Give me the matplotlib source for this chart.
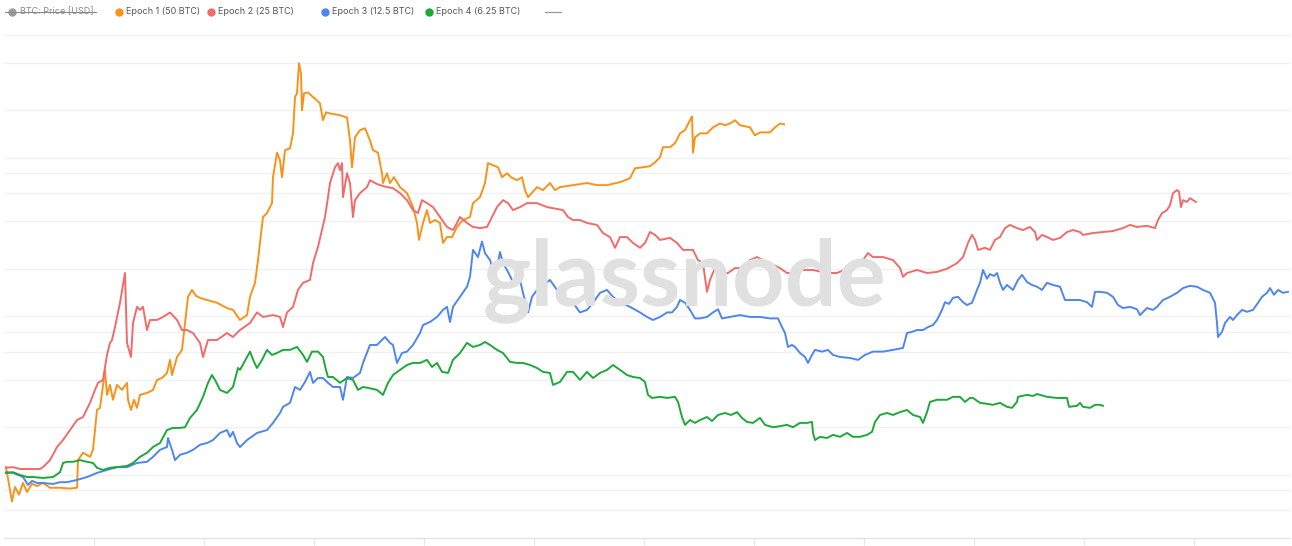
import numpy as np
import matplotlib.pyplot as plt
from matplotlib.lines import Line2D

# ROI multiple since the halving, per day since the halving
epoch1_days = [0, 6, 9, 13, 17, 21, 26, 31, 37, 44, 54, 64, 71, 72, 77, 84, 87, 91, 94, 99,
               101, 104, 107, 111, 116, 121, 122, 125, 128, 131, 134, 141, 147, 151, 156, 161, 164, 166, 171, 176,
               179, 182, 186, 190, 194, 201, 211, 221, 227, 234, 241, 244, 249, 252, 257, 261, 266, 267, 271, 274,
               276, 279, 284, 287, 289, 291, 293, 295, 296, 298, 302, 307, 311, 314, 317, 320, 324, 334, 341, 344,
               346, 349, 354, 359, 364, 367, 372, 376, 377, 381, 384, 388, 394, 401, 407, 411, 413, 417, 421, 424,
               429, 434, 437, 441, 446, 451, 457, 464, 467, 474, 479, 482, 487, 492, 496, 501, 505, 511, 516, 519,
               522, 531, 537, 544, 549, 554, 567, 581, 591, 601, 614, 624, 629, 637, 644, 649, 654, 657, 664, 669,
               674, 679, 684, 686, 687, 689, 694, 701, 707, 714, 719, 724, 729, 734, 744, 749, 754, 764, 769, 774, 778]
epoch1_roi = [1.12, 0.68, 0.84, 0.75, 0.89, 0.78, 0.88, 0.85, 0.89, 0.83, 0.83, 0.82, 0.83, 1.24, 1.38, 1.30, 1.44, 2.57, 2.65, 4.60,
              3.20, 3.70, 2.98, 3.70, 3.44, 3.81, 2.98, 2.57, 2.98, 2.65, 3.20, 3.29, 3.44, 3.98, 4.09, 4.40, 5.32, 4.27, 5.55, 6.15,
              9.09, 13.3, 14.7, 13.5, 13.1, 12.7, 12.2, 11.3, 11.0, 9.50, 10.2, 13.3, 16.3, 22.7, 42.4, 44.9, 51.9, 75.6, 108, 96.8,
              75.6, 112, 115, 143, 242, 256, 396, 342, 200, 256, 259, 242, 231, 221, 173, 194, 191, 186, 180, 129,
              87.4, 135, 150, 154, 129, 112, 108, 80.1, 69.5, 80.1, 69.5, 75.6, 65.5, 60.0, 49.0, 38.9, 30.4, 38.9, 46.9, 38.9,
              40.6, 38.9, 29.1, 31.7, 31.7, 36.7, 40.6, 42.4, 51.9, 56.6, 69.5, 92.8, 90.0, 87.4, 75.6, 80.1, 75.6, 72.4, 75.6, 62.7,
              56.6, 65.5, 62.7, 69.5, 62.7, 65.5, 67.4, 69.5, 67.4, 67.4, 70.4, 74.5, 86.1, 87.4, 88.7, 93.9, 101, 117, 117, 124,
              143, 150, 173, 183, 108, 135, 143, 143, 156, 165, 161, 165, 173, 161, 156, 139, 145, 145, 156, 165, 163]

epoch2_days = [0, 7, 14, 24, 34, 37, 44, 51, 57, 64, 71, 77, 84, 89, 92, 97, 101, 104, 106, 109,
               114, 119, 121, 125, 127, 131, 134, 137, 141, 144, 151, 157, 164, 171, 176, 181, 187, 194, 197, 202,
               211, 221, 227, 234, 244, 251, 257, 267, 274, 277, 281, 287, 292, 297, 304, 307, 312, 316, 319, 322,
               324, 329, 332, 334, 336, 337, 341, 344, 347, 349, 354, 361, 364, 369, 374, 381, 387, 394, 401, 407,
               412, 416, 421, 427, 434, 441, 447, 451, 454, 461, 467, 474, 481, 486, 491, 497, 502, 507, 514, 521,
               531, 541, 547, 557, 562, 567, 574, 581, 591, 597, 604, 609, 614, 621, 627, 634, 639, 644, 649, 654,
               664, 671, 677, 687, 692, 697, 701, 704, 711, 716, 722, 729, 737, 744, 751, 757, 764, 774, 781, 787,
               797, 807, 821, 831, 841, 851, 857, 862, 867, 877, 887, 894, 897, 901, 911, 921, 931, 941, 951, 957,
               962, 966, 969, 972, 979, 984, 989, 994, 999, 1004, 1011, 1017, 1024, 1029, 1031, 1036, 1041, 1047, 1054, 1061,
               1067, 1074, 1077, 1087, 1097, 1107, 1117, 1124, 1131, 1141, 1149, 1152, 1156, 1161, 1164, 1167, 1171, 1173, 1175, 1177,
               1181, 1184, 1187, 1190]
epoch2_roi = [1.11, 1.12, 1.09, 1.09, 1.09, 1.12, 1.24, 1.50, 1.66, 1.92, 2.22, 2.32, 2.85, 3.44, 3.81, 3.98, 5.72, 6.81, 7.10, 8.57,
              12.2, 18.8, 6.81, 5.55, 9.09, 11.5, 11.0, 11.5, 8.21, 9.50, 9.50, 9.93, 10.6, 9.50, 8.21, 8.21, 7.86, 6.81, 5.55, 7.10,
              7.10, 7.86, 7.42, 8.21, 9.09, 10.6, 9.93, 10.2, 9.93, 8.57, 10.6, 11.5, 14.7, 16.3, 17.0, 21.7, 27.5, 35.1, 42.4, 56.6,
              69.5, 87.4, 92.8, 83.7, 92.8, 56.6, 80.1, 69.5, 42.4, 54.2, 60.0, 65.5, 72.4, 69.5, 67.4, 65.5, 64.5, 60.0, 54.2, 46.9,
              44.9, 54.2, 51.9, 49.0, 42.4, 36.7, 35.1, 38.9, 42.4, 38.9, 36.7, 36.1, 36.7, 42.4, 49.0, 54.2, 51.9, 46.9, 49.0, 51.9,
              51.9, 49.0, 48.2, 46.9, 42.4, 40.6, 40.6, 38.9, 37.8, 33.6, 31.7, 27.1, 31.7, 31.7, 29.1, 27.1, 29.1, 34.1, 32.7, 30.4,
              31.3, 29.1, 26.3, 26.3, 22.7, 21.7, 14.3, 17.0, 21.7, 18.8, 18.8, 20.2, 20.2, 22.7, 23.7, 22.7, 21.7, 20.2, 18.8, 18.8,
              19.65, 19.65, 18.8, 18.8, 20.0, 21.7, 22.7, 25.1, 23.7, 23.7, 22.7, 20.2, 17.8, 18.8, 19.65, 18.8, 19.1, 20.0, 21.7, 23.7,
              29.1, 32.7, 30.4, 26.3, 27.1, 26.3, 30.4, 31.7, 36.1, 37.8, 36.1, 35.1, 36.7, 34.1, 30.4, 32.7, 31.7, 30.4, 31.3, 34.1,
              35.1, 34.1, 32.7, 33.6, 34.1, 34.6, 36.1, 37.8, 36.7, 37.3, 36.1, 40.6, 44.9, 46.9, 50.4, 60.0, 62.7, 61.3, 49.0, 54.2,
              52.8, 55.8, 54.2, 52.8]

epoch3_days = [0, 7, 12, 17, 22, 26, 31, 37, 47, 54, 61, 71, 81, 91, 101, 111, 121, 131, 141, 147,
               154, 161, 162, 166, 169, 174, 181, 187, 194, 201, 207, 214, 221, 224, 227, 231, 234, 241, 251, 261,
               267, 274, 277, 284, 289, 294, 299, 304, 307, 312, 317, 322, 327, 334, 337, 341, 347, 354, 357, 364,
               371, 379, 384, 387, 391, 396, 401, 407, 414, 417, 424, 431, 437, 441, 444, 447, 454, 461, 464, 467,
               472, 476, 479, 484, 487, 491, 494, 497, 501, 506, 511, 514, 517, 522, 526, 531, 536, 540, 544, 551,
               557, 562, 567, 574, 581, 587, 594, 601, 607, 614, 624, 634, 641, 647, 654, 661, 666, 671, 674, 679,
               684, 689, 694, 701, 707, 712, 716, 724, 734, 744, 754, 764, 772, 776, 779, 782, 786, 789, 794, 799,
               802, 806, 809, 816, 822, 827, 834, 844, 852, 859, 867, 877, 887, 897, 901, 906, 911, 917, 922, 927,
               931, 936, 939, 943, 947, 952, 957, 961, 966, 971, 974, 977, 981, 984, 988, 991, 994, 997, 1001, 1007,
               1012, 1016, 1021, 1026, 1031, 1036, 1041, 1047, 1054, 1059, 1066, 1074, 1081, 1086, 1089, 1094, 1101, 1107, 1112, 1117,
               1124, 1131, 1134, 1141, 1147, 1151, 1157, 1164, 1171, 1177, 1184, 1191, 1197, 1204, 1209, 1211, 1212, 1216, 1219, 1224,
               1227, 1231, 1236, 1241, 1247, 1252, 1256, 1261, 1264, 1268, 1272, 1277, 1282]
epoch3_roi = [1.04, 1.03, 1.0, 0.97, 0.865, 0.917, 0.89, 0.89, 0.877, 0.90, 0.90, 0.93, 0.97, 1.03, 1.075, 1.12, 1.12, 1.19, 1.21, 1.30,
              1.44, 1.50, 1.71, 1.44, 1.24, 1.34, 1.38, 1.44, 1.55, 1.59, 1.66, 1.84, 1.92, 1.74, 1.87, 1.59, 1.50, 1.66, 1.84, 1.92,
              2.13, 2.46, 2.69, 2.85, 3.59, 3.44, 3.86, 4.47, 3.81, 4.09, 4.09, 3.81, 3.59, 3.59, 2.98, 4.15, 4.09, 4.40, 5.09, 6.61,
              6.61, 7.42, 6.81, 6.61, 5.09, 5.88, 6.0, 6.61, 7.86, 8.83, 9.23, 9.93, 11.0, 11.5, 9.23, 11.5, 13.3, 15.4, 17.8, 26.3,
              23.7, 29.7, 25.1, 22.7, 19.65, 20.2, 25.5, 21.7, 19.65, 17.0, 16.3, 17.0, 14.1, 10.6, 13.3, 14.7, 17.0, 16.3, 17.0, 14.7,
              13.3, 12.7, 12.2, 10.6, 11.0, 12.2, 14.1, 14.7, 13.3, 12.2, 11.5, 10.6, 9.93, 9.50, 9.93, 10.6, 10.6, 11.5, 12.7, 12.2,
              11.0, 9.72, 9.72, 9.93, 10.6, 11.1, 9.72, 9.93, 10.2, 9.93, 9.93, 9.72, 9.72, 8.57, 7.86, 6.42, 6.61, 6.42, 5.88, 5.55,
              5.09, 5.72, 6.15, 6.0, 6.15, 5.72, 5.55, 5.47, 5.32, 5.72, 6.0, 6.0, 6.15, 6.33, 7.86, 8.0, 8.21, 8.21, 8.57, 8.83,
              9.50, 11.0, 12.3, 12.0, 13.1, 13.3, 12.3, 11.8, 12.2, 14.7, 16.3, 19.65, 17.3, 18.5, 18.0, 18.8, 16.3, 14.7, 15.8, 14.7,
              17.0, 18.3, 16.5, 15.8, 15.4, 14.7, 16.3, 15.8, 15.4, 12.7, 12.7, 12.7, 12.3, 11.5, 14.3, 14.3, 14.1, 13.3, 11.8, 11.3,
              11.5, 11.1, 10.2, 11.3, 11.0, 11.5, 12.7, 13.3, 14.1, 15.1, 15.6, 15.4, 14.7, 14.1, 12.2, 9.09, 7.42, 8.0, 9.09, 9.93,
              9.50, 10.2, 11.0, 10.7, 11.0, 12.2, 13.3, 14.1, 15.1, 13.7, 14.7, 14.1, 14.3]

epoch4_days = [0, 7, 14, 21, 27, 37, 47, 54, 57, 61, 67, 74, 81, 87, 91, 97, 104, 111, 121, 127,
               134, 141, 147, 154, 161, 167, 174, 179, 184, 191, 197, 202, 206, 209, 214, 221, 227, 232, 234, 241,
               244, 248, 251, 256, 261, 266, 271, 277, 284, 291, 297, 301, 306, 312, 317, 320, 322, 327, 334, 341,
               347, 352, 357, 364, 371, 377, 382, 387, 394, 401, 407, 414, 421, 426, 431, 436, 442, 447, 454, 461,
               467, 474, 479, 484, 491, 497, 504, 511, 517, 524, 531, 537, 544, 547, 554, 561, 567, 574, 581, 587,
               594, 601, 607, 614, 621, 627, 634, 639, 642, 646, 654, 661, 669, 672, 676, 679, 684, 689, 694, 701,
               706, 712, 719, 725, 731, 736, 741, 747, 754, 759, 767, 774, 781, 787, 794, 801, 806, 807, 809, 814,
               821, 827, 834, 841, 847, 854, 861, 866, 869, 874, 881, 887, 894, 901, 907, 914, 917, 921, 924, 931,
               941, 947, 954, 959, 964, 967, 974, 981, 987, 994, 1001, 1006, 1011, 1012, 1021, 1027, 1031, 1041, 1051, 1061,
               1063, 1071, 1074, 1077, 1084, 1089, 1094, 1097]
epoch4_roi = [1.03, 1.04, 1.0, 0.97, 0.97, 0.957, 0.97, 1.04, 1.19, 1.21, 1.21, 1.24, 1.21, 1.19, 1.11, 1.075, 1.11, 1.12, 1.14, 1.19,
              1.30, 1.38, 1.50, 1.59, 1.92, 1.98, 1.98, 2.0, 2.29, 2.57, 3.11, 3.81, 4.27, 3.98, 3.44, 3.29, 3.59, 4.73, 4.60, 5.55,
              6.0, 5.17, 4.73, 5.32, 6.15, 5.72, 5.88, 6.15, 6.15, 6.42, 5.72, 5.17, 6.0, 6.0, 5.55, 4.60, 4.15, 4.15, 3.81, 4.09,
              3.98, 3.44, 3.59, 3.52, 3.44, 3.20, 3.81, 4.27, 4.60, 4.94, 5.09, 5.09, 5.32, 4.80, 5.09, 4.47, 4.40, 5.32, 5.88, 6.81,
              6.42, 6.61, 6.90, 6.61, 6.15, 5.88, 5.17, 5.09, 5.09, 4.94, 4.73, 4.47, 4.40, 3.70, 3.86, 4.47, 4.47, 3.98, 4.47, 4.09,
              4.40, 4.60, 4.94, 4.60, 4.27, 4.15, 4.09, 3.86, 3.20, 3.06, 3.11, 3.06, 3.11, 2.89, 2.32, 2.07, 2.22, 2.13, 2.22, 2.32,
              2.19, 2.39, 2.46, 2.39, 2.49, 2.29, 2.16, 2.13, 2.29, 2.07, 2.0, 2.03, 2.07, 2.0, 2.13, 2.13, 2.16, 1.84, 1.66, 1.74,
              1.71, 1.79, 1.74, 1.84, 1.74, 1.74, 1.79, 1.87, 2.16, 2.39, 2.46, 2.39, 2.49, 2.57, 2.39, 2.32, 2.13, 2.49, 2.89, 2.98,
              2.98, 3.11, 3.11, 2.89, 3.06, 3.06, 2.85, 2.81, 2.77, 2.85, 2.69, 2.65, 2.89, 3.11, 3.20, 3.15, 3.24, 3.11, 3.06, 3.06,
              2.69, 2.73, 2.85, 2.69, 2.65, 2.77, 2.77, 2.73]

series = [
    ("Epoch 1 (50 BTC)", epoch1_days, epoch1_roi, "#f7931a"),
    ("Epoch 2 (25 BTC)", epoch2_days, epoch2_roi, "#f26b6b"),
    ("Epoch 3 (12.5 BTC)", epoch3_days, epoch3_roi, "#4f86ee"),
    ("Epoch 4 (6.25 BTC)", epoch4_days, epoch4_roi, "#1fa83a"),
]
grid_vals = [0.6, 0.8, 1, 2, 4, 6, 8, 10, 20, 40, 60, 80, 100, 200, 400, 600]

W, H = 1292, 546
fig = plt.figure(figsize=(W / 100, H / 100), dpi=100)
ax = fig.add_axes([4 / W, (H - 538) / H, 1286 / W, 508 / H])

for name, d, r, c in series:
    ax.plot(d, r, color=c, lw=1.4, zorder=3, solid_joinstyle="round")

ax.set_yscale("log")
ax.set_ylim(0.4, 642)
ax.set_xlim(-2, 1284)
ax.set_yticks(grid_vals)
ax.yaxis.set_minor_locator(plt.NullLocator())
ax.set_xticks(np.arange(88, 1284, 110))
ax.grid(axis="y", color="#f1f1f1", lw=1, zorder=0)
ax.tick_params(axis="y", left=False, labelleft=False)
ax.tick_params(axis="x", length=5, width=0.8, color="#e4e4e4", labelbottom=False)
for s in ["top", "left", "right"]:
    ax.spines[s].set_visible(False)
ax.spines["bottom"].set_color("#e4e4e4")
ax.spines["bottom"].set_linewidth(1)

# watermark
fig.text(685 / W, 1 - 305 / H, "glassnode", fontsize=66, family="Lato", weight="bold",
         color="#e0e0e0", ha="center", va="baseline", zorder=1)

# legend along the top
def fx(px):
    return px / W

ly = 1 - 12 / H
fig.add_artist(Line2D([fx(12)], [ly], marker="o", ms=5, color="#9a9a9a", lw=0))
fig.text(fx(20), ly, "BTC: Price [USD]", fontsize=6.5, family="Inter", color="#8a8a8a", va="center")
fig.add_artist(Line2D([fx(5), fx(96)], [ly, ly], color="#8a8a8a", lw=0.8))
legend_pos = [119, 211, 325, 429]
for (name, d, r, c), px in zip(series, legend_pos):
    fig.add_artist(Line2D([fx(px)], [ly], marker="o", ms=5, color=c, lw=0))
    fig.text(fx(px + 7), ly, name, fontsize=6.5, family="Inter", color="#555555", va="center")
fig.add_artist(Line2D([fx(545), fx(561)], [ly, ly], color="#9a9a9a", lw=0.9))

fig.savefig("out.png", dpi=100)
